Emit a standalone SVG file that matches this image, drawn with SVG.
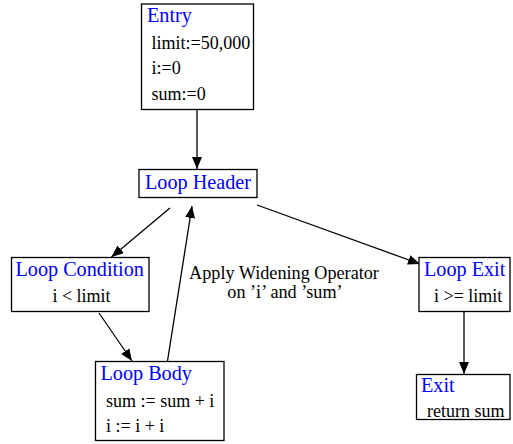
<svg xmlns="http://www.w3.org/2000/svg" width="513" height="444" viewBox="0 0 513 444">
  <style>
    .box { fill: #ffffff; stroke: #000000; stroke-width: 1.3; }
    .title { font-family: 'Liberation Serif', Tinos, 'Times New Roman', 'Nimbus Roman', 'DejaVu Serif', serif; font-size: 20.2px; fill: #0000ff; }
    .code { font-family: 'Liberation Serif', Tinos, 'Times New Roman', 'Nimbus Roman', 'DejaVu Serif', serif; font-size: 18px; fill: #000000; }
    .edge { fill: none; stroke: #000000; stroke-width: 1.3; marker-end: url(#head); }
    .label { font-family: 'Liberation Serif', Tinos, 'Times New Roman', 'Nimbus Roman', 'DejaVu Serif', serif; font-size: 18.2px; fill: #000000; text-anchor: middle; }
  </style>
  <defs>
    <marker id="head" markerUnits="userSpaceOnUse" markerWidth="12" markerHeight="10" refX="12" refY="5" orient="auto">
      <path d="M0,0 L12,5 L0,10 z" fill="#000000"/>
    </marker>
  </defs>
  <rect width="513" height="444" fill="#ffffff"/>

  <g id="connectors">
    <line class="edge" x1="197" y1="110" x2="197" y2="169"/>
    <line class="edge" x1="170" y1="208" x2="111.5" y2="257"/>
    <line class="edge" x1="99" y1="313" x2="132" y2="361"/>
    <line class="edge" x1="167.5" y1="361" x2="192" y2="206"/>
    <line class="edge" x1="257" y1="205" x2="420" y2="264"/>
    <line class="edge" x1="464" y1="312" x2="464" y2="374"/>
    <text class="label" x="284" y="279">Apply Widening Operator</text>
    <text class="label" x="285" y="298">on ’i’ and ’sum’</text>
  </g>

  <g id="entry">
    <rect class="box" x="141.5" y="4" width="112" height="105.5"/>
    <text class="title" x="147" y="22">Entry</text>
    <text class="code" x="151.5" y="49">limit:=50,000</text>
    <text class="code" x="151.5" y="74">i:=0</text>
    <text class="code" x="151.5" y="100">sum:=0</text>
  </g>

  <g id="loop-header">
    <rect class="box" x="139" y="169.5" width="118" height="28"/>
    <text class="title" x="198" y="189" text-anchor="middle">Loop Header</text>
  </g>

  <g id="loop-condition">
    <rect class="box" x="11.5" y="257.5" width="137.5" height="54"/>
    <text class="title" x="15.5" y="276">Loop Condition</text>
    <text class="code" x="81.5" y="302" text-anchor="middle">i &lt; limit</text>
  </g>

  <g id="loop-body">
    <rect class="box" x="95.5" y="361.5" width="128.5" height="79"/>
    <text class="title" x="100.5" y="380">Loop Body</text>
    <text class="code" x="106" y="407">sum := sum + i</text>
    <text class="code" x="106" y="432">i := i + i</text>
  </g>

  <g id="loop-exit">
    <rect class="box" x="419" y="257.5" width="91" height="54"/>
    <text class="title" x="424" y="276">Loop Exit</text>
    <text class="code" x="434" y="302">i &gt;= limit</text>
  </g>

  <g id="exit">
    <rect class="box" x="416.5" y="374.5" width="93.5" height="45"/>
    <text class="title" x="421" y="392">Exit</text>
    <text class="code" x="427" y="417">return sum</text>
  </g>
</svg>
